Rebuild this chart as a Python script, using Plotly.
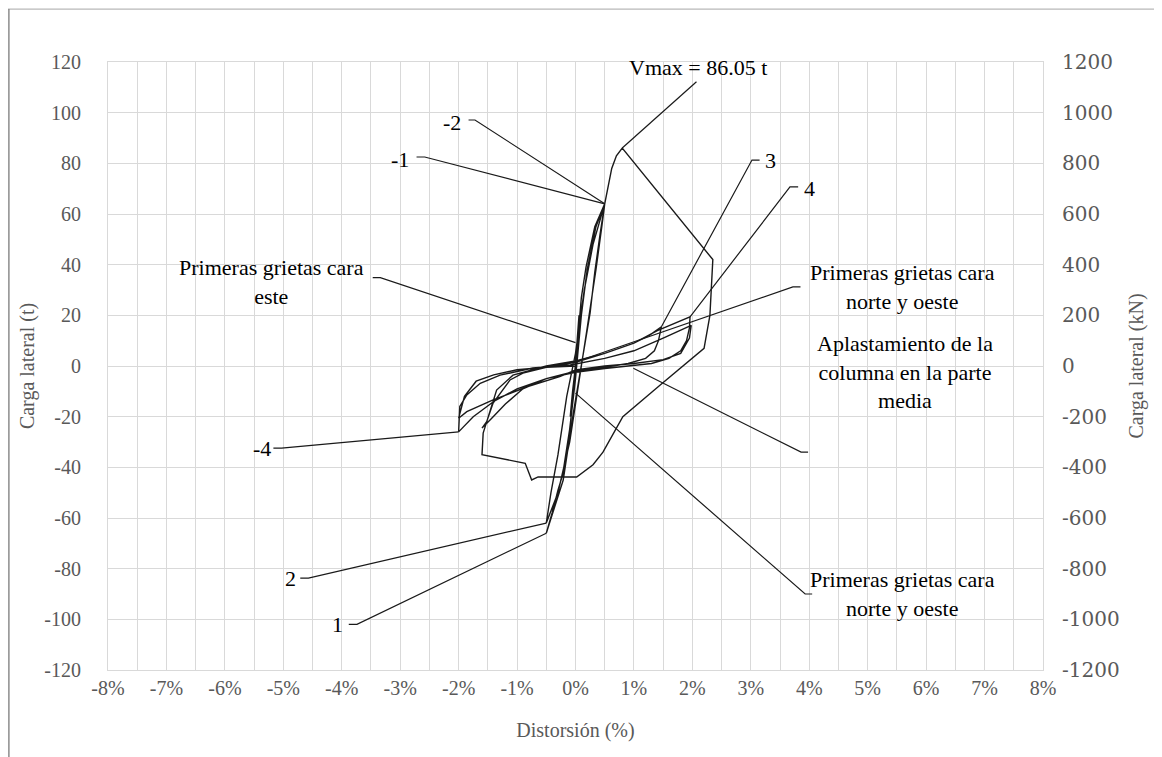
import plotly.graph_objects as go

# Hysteresis curve: drift (%) and lateral load (t)
drift = [0, 0.03, 0.06, 0.02, -0.02, -0.06, -0.09, -0.05, 0,
         0.1, 0.18, 0.33, 0.5,
         0.42, 0.33, 0.25, 0.08, -0.04, -0.21, -0.5,
         -0.4, -0.3, -0.22, -0.1, 0.0, 0.1, 0.2, 0.35, 0.5,
         0.45, 0.35, 0.2, 0.05, -0.1, -0.3, -0.5,
         -0.42, -0.3, -0.15, 0.0, 0.15, 0.3, 0.5,
         0.55, 0.62, 0.7, 0.8,
         2.35, 2.3, 2.2, 1.75, 1.45, 0.81, 0.47, 0.3, 0.13, 0.02, -0.64, -0.75, -0.86, -1.6, -1.58,
         -1.46, -1.35, -1.07, -0.5, 0.0, 0.5, 1.0, 1.27, 1.47,
         1.42, 1.35, 1.2, 0.9, 0.5, 0.0, -0.5, -0.9, -1.2, -1.45, -1.6,
         -1.52, -1.41, -1.12, -0.9, -0.5, 0.0, 0.5, 1.0, 1.4, 1.7, 1.96,
         1.95, 1.9, 1.8, 1.6, 1.3, 1.0, 0.5, 0.0, -0.5, -1.0, -1.4, -1.75, -2.0,
         -1.98, -1.86, -1.63, -1.29, -0.73, -0.09, 0.5, 1.0, 1.5, 1.8, 1.98,
         1.95, 1.8, 1.5, 1.0, 0.5, 0.0, -0.27, -0.83, -1.41, -1.86, -2.0,
         -1.9, -1.7, -1.4, -1.0, -0.5, 0.0]
load = [0, 10, 20, 5, -5, -15, -20, -10, 0,
        27, 39, 55, 64,
        52, 37, 21, -3, -19, -45, -66,
        -58, -49, -43, -25, -5, 20, 38, 55, 64,
        55, 38, 15, -8, -30, -50, -62,
        -50, -35, -12, 5, 30, 48, 64,
        70, 78, 83, 86.05,
        42, 20, 7, -1.6, -7.5, -20, -34, -39, -42, -43.8, -43.8, -45, -38.4, -35, -26.5,
        -17.4, -9.5, -3.6, 0, 2, 5, 9, 12.2, 15.5,
        10, 6, 3, 1, -0.5, -2, -5, -9, -15, -21, -24.5,
        -22, -14.6, -5.5, -2.8, -0.5, 1.5, 5, 9, 14, 17, 19.4,
        15, 10, 6, 3, 1, 0.3, -1, -2.5, -5, -9, -14, -20, -26,
        -16, -11.4, -6.8, -3.6, -0.8, 0.4, 3, 6, 11, 14, 16,
        11, 5, 2.5, 1, 0, -1.6, -4.2, -8.2, -13.4, -18, -20.6,
        -12, -6, -3.5, -1.5, -0.5, 0]

x_ticks = [-8, -7, -6, -5, -4, -3, -2, -1, 0, 1, 2, 3, 4, 5, 6, 7, 8]
x_labels = [f"{v}%" for v in x_ticks]
y_ticks = [-120, -100, -80, -60, -40, -20, 0, 20, 40, 60, 80, 100, 120]
y_labels = [str(v) for v in y_ticks]
y2_ticks = [-1200, -1000, -800, -600, -400, -200, 0, 200, 400, 600, 800, 1000, 1200]
y2_labels = [str(v) for v in y2_ticks]

# Annotations: text, text position (x, y), leader path points (elbow start, elbow end, target)
ann_text = ["Vmax = 86.05 t", "-2", "-1", "Primeras grietas cara<br>este", "3", "4",
            "Primeras grietas cara<br>norte y oeste", "Aplastamiento de la<br>columna en la parte<br>media",
            "Primeras grietas cara<br>norte y oeste", "2", "1", "-4"]
ann_x = [2.09, -2.11, -3.0, -5.2, 3.33, 4.0, 5.59, 5.64, 5.59, -4.88, -4.08, -5.36]
ann_y = [118, 96, 81.6, 33, 81.3, 70.0, 31.2, -2.4, -90, -83.7, -102, -32.4]
lead_x = [[2.07, 2.07, 0.8], [-1.83, -1.72, 0.5], [-2.72, -2.58, 0.5], [-3.47, -3.34, 0.0],
          [3.15, 3.02, 1.47], [3.81, 3.67, 1.96], [3.85, 3.72, 0.0], [3.98, 3.86, 0.99],
          [4.05, 3.93, 0.0], [-4.71, -4.57, -0.5], [-3.88, -3.74, -0.5], [-5.17, -5.03, -2.0]]
lead_y = [[112.2, 112.2, 86.05], [97.1, 97.1, 64], [82.5, 82.5, 64], [34.9, 34.9, 9.2],
          [81.3, 81.3, 15.5], [70.7, 70.7, 19.4], [31.2, 31.2, 1.6], [-34.0, -34.0, -0.9],
          [-90, -90, -10.7], [-83.7, -83.7, -62], [-102, -102, -66], [-32.4, -32.4, -26]]

fig = go.Figure()
fig.add_trace(go.Scatter(x=drift, y=load, mode="lines",
                         line=dict(color="#1a1a1a", width=1.4), showlegend=False, hoverinfo="skip"))
for lx, ly in zip(lead_x, lead_y):
    fig.add_trace(go.Scatter(x=lx, y=ly, mode="lines", line=dict(color="#1a1a1a", width=1.2),
                             showlegend=False, hoverinfo="skip"))
# invisible trace for secondary axis
fig.add_trace(go.Scatter(x=[0], y=[0], yaxis="y2", mode="markers", marker=dict(opacity=0),
                         showlegend=False, hoverinfo="skip"))

for t, x, y in zip(ann_text, ann_x, ann_y):
    fig.add_annotation(x=x, y=y, text=t, showarrow=False, xanchor="center", yanchor="middle",
                       font=dict(family="Liberation Serif", size=22, color="#000000"), align="center")

grid = "#d9d9d9"
tickfont = dict(family="Liberation Serif", size=20, color="#595959")
titlefont = dict(family="Liberation Serif", size=20, color="#595959")
fig.update_layout(
    width=1154, height=749,
    margin=dict(l=100, r=119, t=54, b=87),
    paper_bgcolor="white", plot_bgcolor="white",
    xaxis=dict(range=[-8, 8], tickvals=x_ticks, ticktext=x_labels, showgrid=True, gridcolor=grid,
               gridwidth=1, zeroline=False, showline=True, linecolor=grid, mirror=True,
               minor=dict(dtick=0.5, showgrid=True, gridcolor=grid, gridwidth=1),
               tickfont=tickfont, ticks="", ticklabelstandoff=0,
               title=dict(text="Distorsión (%)", font=titlefont, standoff=24)),
    yaxis=dict(range=[-120, 120], tickvals=y_ticks, ticktext=y_labels, showgrid=True, gridcolor=grid,
               zeroline=False, showline=True, linecolor=grid, mirror=True, tickfont=tickfont, ticks="",
               ticklabelstandoff=22,
               title=dict(text="Carga lateral (t)", font=titlefont, standoff=4)),
    yaxis2=dict(range=[-1200, 1200], tickvals=y2_ticks, ticktext=y2_labels, overlaying="y", side="right",
                showgrid=False, zeroline=False, showline=False, ticks="", ticklabelstandoff=18,
                tickfont=dict(family="DejaVu Serif", size=20, color="#595959"),
                title=dict(text="Carga lateral (kN)", font=titlefont, standoff=10)),
    shapes=[
        dict(type="line", xref="paper", yref="paper", x0=-0.107, x1=1.13, y0=1.087, y1=1.087,
             line=dict(color="#a6a6a6", width=1)),
        dict(type="line", xref="paper", yref="paper", x0=-0.106, x1=-0.106, y0=-0.15, y1=1.087,
             line=dict(color="#8c8c8c", width=1.5)),
    ],
)
fig.write_html("out.html")
